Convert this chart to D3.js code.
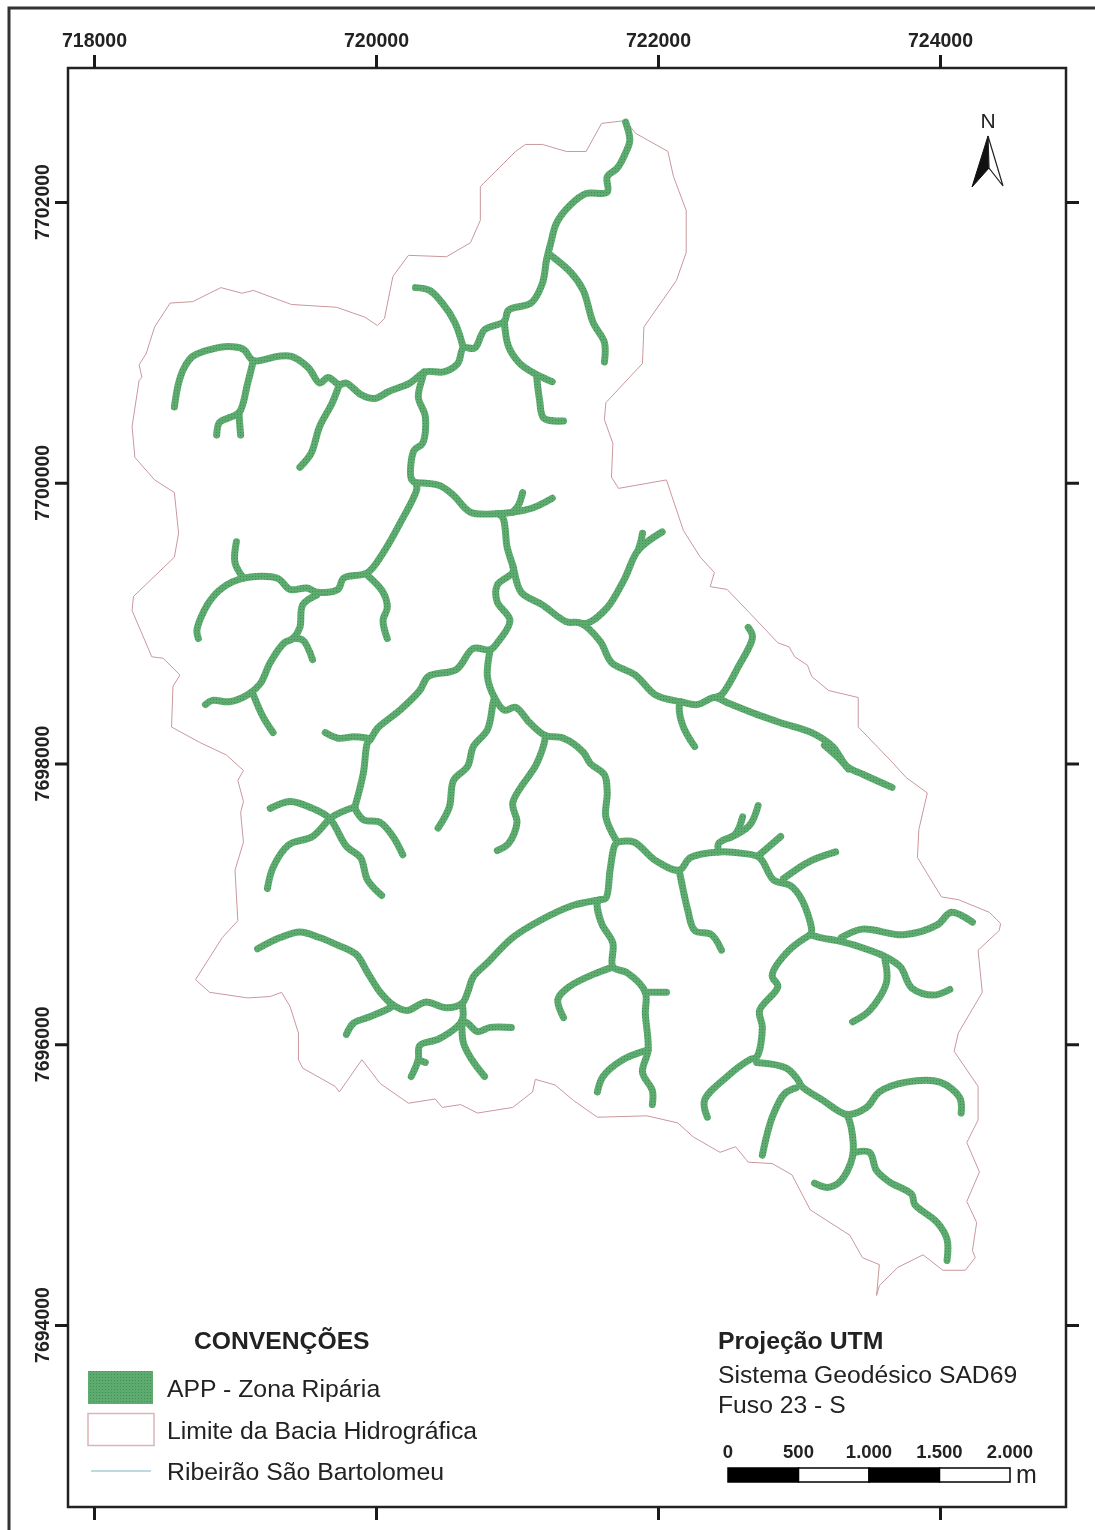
<!DOCTYPE html>
<html>
    <head>
        <meta charset="utf-8">
        <style>
            html, body { margin: 0; padding: 0; background: #fff; }
            svg { display: block; filter: blur(0.5px); }
            text { font-family: "Liberation Sans", Arial, sans-serif; fill: #222; }
            .axis line { stroke: #1a1a1a; stroke-width: 3px; }
            .axis text { font-size: 19.5px; font-weight: bold; fill: #222; }
        </style>
    </head>
    <body>
        <svg width="1095" height="1530"></svg>
        <script src="https://cdn.jsdelivr.net/npm/d3@7"></script>
        <script>
            // tick values, UTM metres
            var eastTicks = [718000, 720000, 722000, 724000];
            var northTicks = [7694000, 7696000, 7698000, 7700000, 7702000];

            // watershed limit, [easting, northing]
            var boundary = [
                [721770,7702580],[721840,7702490],[722070,7702360],[722110,7702180],[722200,7701940],[722200,7701640],[722130,7701440],[721900,7701110],
                [721890,7700850],[721630,7700570],[721620,7700450],[721680,7700280],[721670,7700040],[721720,7699960],[722060,7700020],[722180,7699660],
                [722300,7699470],[722400,7699360],[722370,7699260],[722490,7699240],[722700,7699020],[722850,7698860],[722930,7698830],[722970,7698760],
                [723060,7698700],[723090,7698620],[723210,7698520],[723420,7698470],[723420,7698260],[723660,7698010],[723760,7697900],[723910,7697790],
                [723850,7697530],[723840,7697330],[724010,7697050],[724130,7697030],[724350,7696940],[724430,7696860],[724420,7696810],[724270,7696670],
                [724300,7696370],[724130,7696080],[724100,7695950],[724270,7695700],[724270,7695460],[724190,7695300],[724280,7695090],[724190,7694880],
                [724260,7694730],[724230,7694530],[724250,7694480],[724180,7694390],[724020,7694390],[723880,7694500],[723700,7694410],[723570,7694280],
                [723550,7694210],[723570,7694430],[723450,7694480],[723360,7694640],[723080,7694820],[722950,7695070],[722810,7695150],[722640,7695160],
                [722550,7695270],[722440,7695230],[722250,7695340],[722140,7695440],[721920,7695490],[721570,7695480],[721400,7695600],[721270,7695710],
                [721130,7695750],[721110,7695660],[720970,7695550],[720720,7695510],[720600,7695570],[720470,7695550],[720420,7695610],[720230,7695580],
                [720030,7695720],[719900,7695890],[719740,7695660],[719710,7695700],[719480,7695830],[719450,7695890],[719450,7696080],[719390,7696270],
                [719330,7696370],[719250,7696340],[719090,7696330],[718820,7696370],[718720,7696460],[718910,7696760],[719020,7696880],[719000,7697240],
                [719060,7697440],[719040,7697650],[719060,7697730],[719020,7697880],[719060,7697950],[718940,7698060],[718750,7698150],[718550,7698260],
                [718560,7698550],[718610,7698630],[718490,7698750],[718410,7698760],[718270,7699090],[718280,7699190],[718570,7699470],[718600,7699640],
                [718570,7699930],[718430,7700020],[718290,7700180],[718270,7700400],[718320,7700730],[718340,7700750],[718320,7700840],[718370,7700920],
                [718430,7701110],[718540,7701280],[718700,7701290],[718900,7701390],[719050,7701350],[719130,7701370],[719400,7701270],[719720,7701250],
                [719920,7701180],[720010,7701120],[720060,7701170],[720120,7701470],[720230,7701620],[720500,7701610],[720670,7701710],[720740,7701870],
                [720740,7702110],[720990,7702360],[721060,7702410],[721180,7702410],[721350,7702360],[721490,7702360],[721600,7702560],[721770,7702580]
            ];

            // riparian zone along the streams, one list per reach
            var streams = [
                // north arm, source to the west end
                [[721770,7702570],[721800,7702440],[721770,7702350],[721710,7702240],[721640,7702180],[721640,7702070],[721490,7702060],[721380,7701980],[721280,7701850],[721240,7701710],[721210,7701590],[721180,7701420],[721100,7701280],[720940,7701230],[720910,7701150],[720770,7701090],[720700,7700960],[720620,7700960],[720580,7700850],[720480,7700790],[720350,7700790],[720240,7700710],[720090,7700650],[719990,7700600],[719890,7700630],[719790,7700710],[719740,7700700],[719660,7700750],[719600,7700710],[719520,7700820],[719400,7700900],[719300,7700900],[719130,7700870],[719060,7700950],[718950,7700970],[718830,7700950],[718700,7700900],[718640,7700820],[718600,7700710],[718570,7700540]],
                [[719130,7700870],[719090,7700710],[719030,7700500],[718950,7700460],[718890,7700430],[718870,7700340]],
                [[719030,7700500],[719030,7700470],[719040,7700340]],
                [[719740,7700700],[719690,7700570],[719600,7700400],[719540,7700210],[719460,7700110]],
                [[720620,7700960],[720560,7701140],[720470,7701280],[720380,7701370],[720280,7701390]],
                [[720910,7701150],[720940,7700970],[721020,7700850],[721140,7700770],[721250,7700720]],
                [[721140,7700750],[721160,7700590],[721190,7700460],[721330,7700440]],
                [[721240,7701620],[721380,7701500],[721470,7701370],[721540,7701140],[721620,7701000],[721620,7700860]],
                [[720340,7700790],[720330,7700750],[720300,7700610],[720350,7700470],[720330,7700280],[720270,7700230],[720250,7700030],[720280,7700000]],
                // middle, junction to the east spur
                [[720280,7700000],[720450,7699980],[720550,7699910],[720670,7699790],[720860,7699780],[720970,7699790],[721110,7699820],[721250,7699890]],
                [[720970,7699790],[721010,7699840],[721040,7699930]],
                [[720280,7700000],[720290,7699960],[720170,7699710],[720050,7699500],[719940,7699360],[719770,7699320],[719730,7699240],[719580,7699220],[719510,7699250],[719390,7699240],[719300,7699320],[719060,7699320],[718910,7699250],[718810,7699140],[718730,7698950],[718740,7698890]],
                [[719060,7699320],[719000,7699430],[719010,7699580]],
                [[719940,7699340],[720050,7699220],[720080,7699110],[720050,7699020],[720080,7698890]],
                [[719580,7699200],[719480,7699130],[719460,7698970],[719410,7698890],[719350,7698860],[719250,7698720],[719180,7698570],[719090,7698490],[718960,7698440],[718840,7698450],[718790,7698420]],
                [[719410,7698890],[719480,7698880],[719550,7698740]],
                [[719130,7698490],[719200,7698330],[719270,7698220]],
                // long reach running south east
                [[720860,7699780],[720900,7699750],[720930,7699540],[720970,7699410],[721030,7699220],[721180,7699130],[721350,7699010],[721450,7699000],[721590,7698870],[721670,7698720],[721840,7698630],[721980,7698490],[722160,7698440],[722280,7698420],[722400,7698470],[722500,7698430],[722700,7698350],[722870,7698290],[723090,7698220],[723240,7698120],[723340,7697980],[723460,7697920],[723660,7697830]],
                [[723180,7698130],[723280,7698040],[723350,7697960]],
                [[721450,7699000],[721500,7699000],[721640,7699110],[721760,7699310],[721860,7699520],[722030,7699650]],
                [[721860,7699520],[721880,7699590],[721890,7699640]],
                [[722400,7698470],[722450,7698490],[722570,7698690],[722670,7698900],[722640,7698970]],
                [[722160,7698440],[722150,7698400],[722180,7698260],[722260,7698120]],
                // loop and the western branches
                [[720970,7699410],[720970,7699360],[720860,7699270],[720860,7699150],[720950,7699020],[720860,7698860],[720810,7698810],[720690,7698820],[720570,7698670],[720370,7698620],[720310,7698520],[720170,7698380],[720010,7698250],[719960,7698170],[719940,7698150],[719910,7697930],[719850,7697690]],
                [[719940,7698180],[719840,7698190],[719730,7698180],[719640,7698220]],
                [[719250,7697680],[719390,7697730],[719550,7697680],[719670,7697610],[719790,7697410],[719890,7697330],[719940,7697170],[720040,7697060]],
                [[719850,7697690],[719690,7697620],[719550,7697480],[719380,7697420],[719270,7697260],[719230,7697110]],
                [[719850,7697680],[719910,7697600],[720030,7697580],[720120,7697480],[720190,7697350]],
                // central stem
                [[720810,7698810],[720790,7698620],[720840,7698470],[720910,7698380],[720990,7698400],[721090,7698290],[721200,7698200],[721330,7698180],[721470,7698080],[721520,7698000],[721620,7697920],[721640,7697790],[721630,7697620],[721710,7697440]],
                [[720840,7698470],[720830,7698430],[720790,7698240],[720690,7698120],[720650,7697980],[720550,7697880],[720520,7697690],[720440,7697540]],
                [[721200,7698200],[721200,7698180],[721140,7698000],[720970,7697720],[721000,7697580],[720940,7697430],[720860,7697380]],
                [[721710,7697440],[721830,7697440],[721980,7697310],[722150,7697240],[722230,7697330],[722430,7697370],[722600,7697360],[722720,7697330],[722820,7697170],[722940,7697130],[723020,7697030],[723090,7696810],[723080,7696780]],
                [[722430,7697370],[722430,7697430],[722550,7697500],[722600,7697620]],
                [[722510,7697470],[722650,7697560],[722710,7697700]],
                [[722720,7697350],[722870,7697480]],
                [[722890,7697180],[723070,7697300],[723260,7697370]],
                [[722150,7697240],[722160,7697190],[722210,7696960],[722260,7696810],[722380,7696780],[722450,7696670]],
                // southern network
                [[721710,7697440],[721690,7697410],[721660,7697240],[721630,7697040],[721590,7697030],[721400,7696990],[721160,7696880],[720970,7696760],[720790,7696580],[720690,7696480],[720650,7696370],[720610,7696290],[720500,7696260],[720350,7696300],[720220,7696240],[720120,7696280],[720030,7696370],[719940,7696510],[719860,7696640],[719720,7696710],[719600,7696760],[719460,7696800],[719320,7696760],[719160,7696680]],
                [[720120,7696280],[720100,7696260],[719940,7696190],[719840,7696150],[719790,7696070]],
                [[720610,7696290],[720610,7696170],[720450,7696040],[720310,7695990],[720300,7695890],[720250,7695770]],
                [[720300,7695890],[720350,7695870]],
                [[720610,7696170],[720620,7696010],[720680,7695890],[720770,7695770]],
                [[720610,7696170],[720650,7696150],[720720,7696090],[720810,7696120],[720960,7696120]],
                [[721590,7697030],[721570,7697010],[721600,7696860],[721680,7696720],[721680,7696550],[721780,7696510],[721910,7696370],[721910,7696220],[721930,7695960],[721890,7695800],[721960,7695670],[721960,7695570]],
                [[721680,7696550],[721570,7696510],[721370,7696410],[721290,7696320],[721330,7696190]],
                [[721910,7696370],[722060,7696370]],
                [[721930,7695960],[721750,7695890],[721610,7695770],[721570,7695660]],
                // eastern network
                [[723080,7696780],[722930,7696670],[722810,7696490],[722850,7696410],[722720,7696240],[722740,7696120],[722700,7695910],[722650,7695890],[722490,7695770],[722330,7695600],[722350,7695480]],
                [[722700,7695870],[722910,7695830],[722990,7695750],[723020,7695700],[723170,7695600],[723340,7695500],[723480,7695550],[723570,7695660],[723760,7695730],[724000,7695730],[724140,7695620],[724150,7695510]],
                [[722980,7695690],[722900,7695650],[722810,7695480],[722740,7695210]],
                [[723340,7695500],[723370,7695410],[723380,7695200],[723290,7695020],[723200,7694980],[723110,7695010]],
                [[723400,7695230],[723500,7695230],[723550,7695100],[723640,7695020],[723800,7694930],[723820,7694860],[723980,7694730],[724050,7694610],[724050,7694460]],
                [[723080,7696780],[723150,7696760],[723310,7696730],[723500,7696670],[723620,7696620],[723720,7696550],[723800,7696400],[723950,7696350],[724070,7696390]],
                [[723610,7696600],[723620,7696440],[723500,7696240],[723380,7696160]],
                [[723300,7696760],[723450,7696820],[723740,7696780],[723980,7696850],[724080,7696940],[724230,7696870]]
            ];

            var legendItems = ["APP - Zona Ripária", "Limite da Bacia Hidrográfica", "Ribeirão São Bartolomeu"];
            var projectionLines = ["Sistema Geodésico SAD69", "Fuso 23 - S"];
            var scaleStops = [0, 500, 1000, 1500, 2000];
            var scaleLabels = ["0", "500", "1.000", "1.500", "2.000"];

            var svg = d3.select("svg");

            // UTM to page
            var x = d3.scaleLinear().domain([718000, 724000]).range([94, 940]);
            var y = d3.scaleLinear().domain([7694000, 7702000]).range([1325, 202]);

            var defs = svg.append("defs");
            var dots = defs.append("pattern")
                .attr("id", "app")
                .attr("patternUnits", "userSpaceOnUse")
                .attr("width", 3)
                .attr("height", 3);
            dots.append("rect").attr("width", 3).attr("height", 3).attr("fill", "#5dab6e");
            dots.append("rect").attr("width", 1).attr("height", 1).attr("fill", "#3f8f58");

            // page frame, open on the right and bottom as in the scan
            svg.append("path")
                .attr("d", "M9,1530V8H1095")
                .attr("fill", "none")
                .attr("stroke", "#333")
                .attr("stroke-width", 3);

            // map frame
            svg.append("rect")
                .attr("x", 68)
                .attr("y", 68)
                .attr("width", 998)
                .attr("height", 1439)
                .attr("fill", "none")
                .attr("stroke", "#222")
                .attr("stroke-width", 2.5);

            var line = d3.line()
                .x(function(d) { return x(d[0]); })
                .y(function(d) { return y(d[1]); });

            svg.append("path")
                .datum(boundary)
                .attr("d", line)
                .attr("fill", "none")
                .attr("stroke", "#c9979d")
                .attr("stroke-width", 1);

            var smooth = d3.line()
                .x(function(d) { return x(d[0]); })
                .y(function(d) { return y(d[1]); })
                .curve(d3.curveCatmullRom.alpha(0.5));

            svg.append("g")
                .selectAll("path")
                .data(streams)
                .enter()
                .append("path")
                .attr("d", smooth)
                .attr("fill", "none")
                .attr("stroke", "url(#app)")
                .attr("stroke-width", 7)
                .attr("stroke-linecap", "round")
                .attr("stroke-linejoin", "round");

            // axes, labels only on top and left
            function place(g, tx, ty) {
                g.attr("class", "axis").attr("transform", "translate(" + tx + "," + ty + ")");
                g.select(".domain").remove();
            }

            svg.append("g")
                .call(d3.axisTop(x).tickValues(eastTicks).tickSize(13).tickPadding(8).tickFormat(d3.format("d")))
                .call(place, 0, 68);

            svg.append("g")
                .call(d3.axisBottom(x).tickValues(eastTicks).tickSize(13).tickFormat(""))
                .call(place, 0, 1507);

            svg.append("g")
                .call(d3.axisRight(y).tickValues(northTicks).tickSize(13).tickFormat(""))
                .call(place, 1066, 0);

            svg.append("g")
                .call(d3.axisLeft(y).tickValues(northTicks).tickSize(13).tickFormat(""))
                .call(place, 68, 0);

            svg.append("g")
                .selectAll("text")
                .data(northTicks)
                .enter()
                .append("text")
                .attr("transform", function(d) { return "translate(49," + y(d) + ") rotate(-90)"; })
                .attr("text-anchor", "middle")
                .attr("font-size", 19.5)
                .attr("font-weight", "bold")
                .text(d3.format("d"));

            // north arrow
            svg.append("text")
                .attr("x", 988)
                .attr("y", 128)
                .attr("text-anchor", "middle")
                .attr("font-size", 21)
                .text("N");
            svg.append("path")
                .attr("d", "M988,136L972,187L989,168Z")
                .attr("fill", "#111")
                .attr("stroke", "#111")
                .attr("stroke-width", 1);
            svg.append("path")
                .attr("d", "M988,136L1003,186L989,168Z")
                .attr("fill", "#fff")
                .attr("stroke", "#222")
                .attr("stroke-width", 1.2);

            // legend
            svg.append("text")
                .attr("x", 194)
                .attr("y", 1349)
                .attr("font-size", 24.7)
                .attr("font-weight", "bold")
                .text("CONVENÇÕES");

            svg.append("rect")
                .attr("x", 88)
                .attr("y", 1371)
                .attr("width", 65)
                .attr("height", 33)
                .attr("fill", "url(#app)");
            svg.append("rect")
                .attr("x", 88)
                .attr("y", 1413.5)
                .attr("width", 66)
                .attr("height", 32)
                .attr("fill", "#fff")
                .attr("stroke", "#dcb4b8")
                .attr("stroke-width", 1.5);
            svg.append("line")
                .attr("x1", 91)
                .attr("x2", 151)
                .attr("y1", 1471)
                .attr("y2", 1471)
                .attr("stroke", "#a6cfd6")
                .attr("stroke-width", 1.5);

            svg.append("g")
                .selectAll("text")
                .data(legendItems)
                .enter()
                .append("text")
                .attr("x", 167)
                .attr("y", function(d, i) { return 1397 + i * 41.5; })
                .attr("font-size", 24.8)
                .attr("fill", "#333")
                .text(function(d) { return d; });

            // projection note
            svg.append("text")
                .attr("x", 718)
                .attr("y", 1349)
                .attr("font-size", 24.8)
                .attr("font-weight", "bold")
                .text("Projeção UTM");

            svg.append("g")
                .selectAll("text")
                .data(projectionLines)
                .enter()
                .append("text")
                .attr("x", 718)
                .attr("y", function(d, i) { return 1383 + i * 30; })
                .attr("font-size", 24.7)
                .attr("fill", "#333")
                .text(function(d) { return d; });

            // scale bar, same metres as the map
            var barX = function(m) { return 728 + x(718000 + m) - x(718000); };

            svg.append("g")
                .selectAll("rect")
                .data(d3.pairs(scaleStops))
                .enter()
                .append("rect")
                .attr("x", function(d) { return barX(d[0]); })
                .attr("y", 1468)
                .attr("width", function(d) { return barX(d[1]) - barX(d[0]); })
                .attr("height", 14)
                .attr("fill", function(d, i) { return i % 2 ? "#fff" : "#000"; })
                .attr("stroke", "#000")
                .attr("stroke-width", 1.5);

            svg.append("g")
                .selectAll("text")
                .data(scaleStops)
                .enter()
                .append("text")
                .attr("x", function(d) { return barX(d); })
                .attr("y", 1458)
                .attr("text-anchor", "middle")
                .attr("font-size", 18.5)
                .attr("font-weight", "bold")
                .text(function(d, i) { return scaleLabels[i]; });

            svg.append("text")
                .attr("x", 1016)
                .attr("y", 1483)
                .attr("font-size", 25)
                .attr("fill", "#333")
                .text("m");
        </script>
    </body>
</html>
